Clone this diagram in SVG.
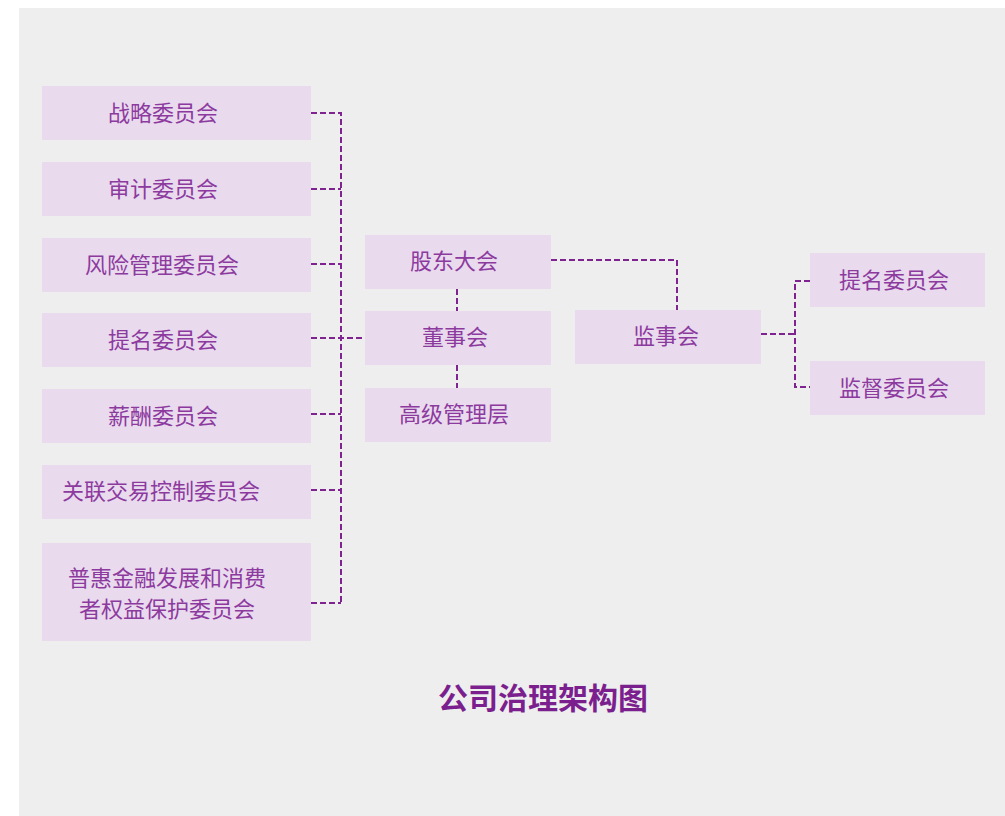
<svg xmlns="http://www.w3.org/2000/svg" width="1005" height="816" viewBox="0 0 1005 816">
<style>
.box{fill:#e9daee;}
.t{font-family:"Noto Sans CJK SC","Noto Sans",sans-serif;font-size:22px;fill:#8d3a9f;text-anchor:middle;dominant-baseline:central;}
.c{fill:none;stroke:#7e2390;stroke-width:2;stroke-dasharray:6 3;}
.title{font-family:"Noto Sans CJK SC","Noto Sans",sans-serif;font-size:30px;font-weight:bold;fill:#7b1f8e;text-anchor:middle;dominant-baseline:central;}
</style>
<rect x="0" y="0" width="1005" height="816" fill="#ffffff"/>
<rect x="19" y="8" width="986" height="808" fill="#eeeeee"/>
<g id="connectors">
<path class="c" d="M311 113 H341 V603"/>
<path class="c" d="M311 189 H341"/>
<path class="c" d="M311 264 H341"/>
<path class="c" d="M311 338 H365"/>
<path class="c" d="M311 414 H341"/>
<path class="c" d="M311 490 H341"/>
<path class="c" d="M311 603 H341"/>
<path class="c" d="M457 289 V311"/>
<path class="c" d="M457 365 V388"/>
<path class="c" d="M551 260 H677 V310"/>
<path class="c" d="M761 334 H795"/>
<path class="c" d="M810 281 H795 V387 H810"/>
</g>
<g id="n1"><rect class="box" x="42" y="86" width="269" height="54"/><text class="t" x="163" y="111">战略委员会</text></g>
<g id="n2"><rect class="box" x="42" y="162" width="269" height="54"/><text class="t" x="163" y="187">审计委员会</text></g>
<g id="n3"><rect class="box" x="42" y="238" width="269" height="54"/><text class="t" x="162" y="263">风险管理委员会</text></g>
<g id="n4"><rect class="box" x="42" y="313" width="269" height="54"/><text class="t" x="163" y="338">提名委员会</text></g>
<g id="n5"><rect class="box" x="42" y="389" width="269" height="54"/><text class="t" x="163" y="414">薪酬委员会</text></g>
<g id="n6"><rect class="box" x="42" y="465" width="269" height="54"/><text class="t" x="161" y="489">关联交易控制委员会</text></g>
<g id="n7"><rect class="box" x="42" y="543" width="269" height="98"/><text class="t" x="167" y="576">普惠金融发展和消费</text><text class="t" x="167" y="607">者权益保护委员会</text></g>
<g id="n8"><rect class="box" x="365" y="235" width="186" height="54"/><text class="t" x="454" y="259">股东大会</text></g>
<g id="n9"><rect class="box" x="365" y="311" width="186" height="54"/><text class="t" x="455" y="335">董事会</text></g>
<g id="n10"><rect class="box" x="365" y="388" width="186" height="54"/><text class="t" x="454" y="412">高级管理层</text></g>
<g id="n11"><rect class="box" x="575" y="310" width="186" height="54"/><text class="t" x="666" y="334">监事会</text></g>
<g id="n12"><rect class="box" x="810" y="253" width="175" height="54"/><text class="t" x="894" y="278">提名委员会</text></g>
<g id="n13"><rect class="box" x="810" y="361" width="175" height="54"/><text class="t" x="894" y="386">监督委员会</text></g>
<g id="title"><text class="title" x="543" y="696">公司治理架构图</text></g>
</svg>
